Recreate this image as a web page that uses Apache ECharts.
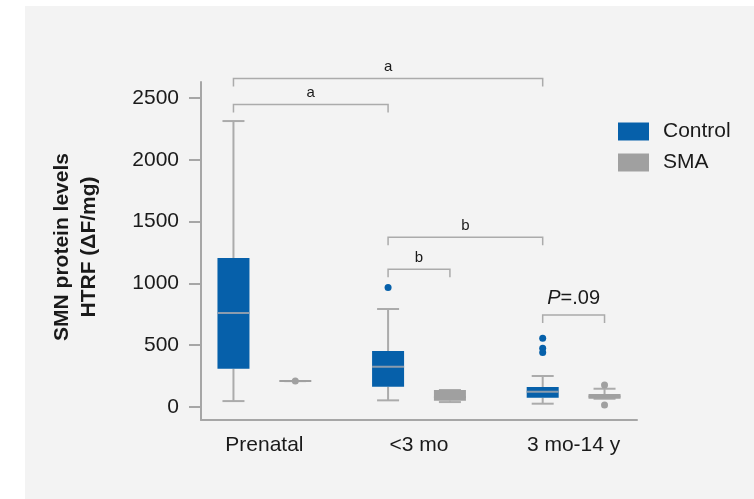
<!DOCTYPE html>
<html>
<head>
<meta charset="utf-8">
<script src="https://cdn.jsdelivr.net/npm/echarts@6/dist/echarts.min.js"></script>
<style>
  html, body { margin: 0; padding: 0; background: #ffffff; }
  #panel { position: absolute; left: 25px; top: 6px; width: 729px; height: 493px; background: #f3f3f3; }
  #chart { position: absolute; left: 0; top: 0; width: 754px; height: 499px; }
</style>
</head>
<body>
<div id="panel"></div>
<div id="chart"></div>
<script>
// ---- Data ----
const categories = ['Prenatal', '<3 mo', '3 mo-14 y'];
const groups = ['Control', 'SMA'];
// [min, Q1, median, Q3, max]
const controlBox = [
  [48, 310, 760, 1205, 2314],
  [54, 164, 326, 453, 793],
  [27, 75, 124, 162, 251]
];
const smaBox = [
  [210, 210, 210, 210, 210],
  [40, 51, 80, 138, 138],
  [67, 67, 85, 105, 148]
];
// [category index, value]
const controlOutliers = [[1, 968], [2, 556], [2, 475], [2, 442]];
const smaPoints = [[0, 210], [2, 178], [2, 16]];
const yTicks = [0, 500, 1000, 1500, 2000, 2500];
// brackets: [category index, group index]
const bracketFrom = [[0, 0], [0, 0], [1, 0], [1, 0], [2, 0]];
const bracketTo = [[2, 0], [1, 0], [2, 0], [1, 1], [2, 1]];
const bracketLevels = [2659, 2447, 1373, 1114, 744];
const bracketLabels = ['a', 'a', 'b', 'b', 'P=.09'];

// ---- Styles ----
const BLUE = '#0660aa';
const GREY = '#a0a0a0';
const LINE = '#ababab';
const TEXT = '#1a1a1a';
const GROUP_OFFSET = 0.2;
const BOX_W = 32;
const CAP_W = 22;
const FONT = 'Liberation Sans, Arial, Helvetica, sans-serif';
const FS = 21;

function xPos(cat, grp) { return cat + 1 + (grp === 0 ? -GROUP_OFFSET : GROUP_OFFSET); }

function boxRenderer(fill, medianColor) {
  return function (params, api) {
    const x = api.value(0);
    const p = [1, 2, 3, 4, 5].map(k => api.coord([x, api.value(k)]));
    const cx = p[0][0];
    const yMin = p[0][1], yQ1 = p[1][1], yMed = p[2][1], yQ3 = p[3][1], yMax = p[4][1];
    const ls = { stroke: LINE, lineWidth: 2 };
    return {
      type: 'group',
      children: [
        { type: 'line', shape: { x1: cx, y1: yMax, x2: cx, y2: yQ3 }, style: ls },
        { type: 'line', shape: { x1: cx, y1: yQ1, x2: cx, y2: yMin }, style: ls },
        { type: 'line', shape: { x1: cx - CAP_W / 2, y1: yMax, x2: cx + CAP_W / 2, y2: yMax }, style: ls },
        { type: 'line', shape: { x1: cx - CAP_W / 2, y1: yMin, x2: cx + CAP_W / 2, y2: yMin }, style: ls },
        { type: 'rect', shape: { x: cx - BOX_W / 2, y: yQ3, width: BOX_W, height: yQ1 - yQ3 }, style: { fill: fill } },
        { type: 'line', shape: { x1: cx - BOX_W / 2, y1: yMed, x2: cx + BOX_W / 2, y2: yMed }, style: { stroke: medianColor, lineWidth: 2 } }
      ]
    };
  };
}

const bracketData = bracketLevels.map((lv, i) => [
  xPos(bracketFrom[i][0], bracketFrom[i][1]),
  xPos(bracketTo[i][0], bracketTo[i][1]),
  lv
]);

function bracketRenderer(params, api) {
  const a = api.coord([api.value(0), api.value(2)]);
  const b = api.coord([api.value(1), api.value(2)]);
  const drop = 8;
  const lbl = bracketLabels[params.dataIndex];
  const isP = lbl.indexOf('P=') === 0;
  return {
    type: 'group',
    children: [
      { type: 'polyline', shape: { points: [[a[0], a[1] + drop], [a[0], a[1]], [b[0], b[1]], [b[0], b[1] + drop]] }, style: { stroke: LINE, lineWidth: 1.5, fill: null } },
      {
        type: 'text',
        style: {
          x: (a[0] + b[0]) / 2,
          y: a[1] - (isP ? 7 : 4),
          text: isP ? '{i|P}' + lbl.slice(1) : lbl,
          align: 'center',
          verticalAlign: 'bottom',
          fill: TEXT,
          font: (isP ? '20px ' : '15px ') + FONT,
          rich: { i: { fontStyle: 'italic', fontSize: 20, fontFamily: FONT, fill: TEXT } }
        }
      }
    ]
  };
}

const chart = echarts.init(document.getElementById('chart'), null, { renderer: 'canvas' });
chart.setOption({
  backgroundColor: 'transparent',
  animation: false,
  textStyle: { fontFamily: FONT },
  grid: { left: 201, right: 117, top: 82, bottom: 79 },
  legend: {
    data: groups,
    orient: 'vertical',
    left: 613,
    top: 116,
    itemWidth: 31,
    itemHeight: 18,
    itemGap: 10,
    icon: 'rect',
    textStyle: { fontSize: FS, color: TEXT, fontFamily: FONT, lineHeight: 18, padding: [0, 0, 0, 9] }
  },
  xAxis: {
    type: 'value',
    min: 0.59,
    max: 3.41,
    splitLine: { show: false },
    axisTick: { show: false },
    axisLine: { show: true, onZero: false, lineStyle: { color: '#a6a6a6', width: 2 } },
    axisLabel: {
      customValues: [1, 2, 3],
      formatter: v => categories[Math.round(v) - 1],
      fontSize: FS, color: TEXT, fontFamily: FONT, margin: 15
    }
  },
  yAxis: {
    type: 'value',
    min: -105,
    max: 2630,
    splitLine: { show: false },
    axisLine: { show: true, onZero: false, lineStyle: { color: '#a6a6a6', width: 2 } },
    axisTick: { show: true, customValues: yTicks, length: 12, lineStyle: { color: '#a6a6a6', width: 2 } },
    axisLabel: { customValues: yTicks, formatter: v => String(v), fontSize: FS, color: TEXT, fontFamily: FONT, margin: 22 },
    name: 'SMN protein levels\nHTRF (ΔF/mg)',
    nameLocation: 'middle',
    nameGap: 98,
    nameTextStyle: { fontSize: FS, fontWeight: 'bold', color: TEXT, fontFamily: FONT, lineHeight: 27, padding: [0, 0, 0, 8] }
  },
  series: [
    {
      name: 'Control', type: 'custom', itemStyle: { color: BLUE },
      renderItem: boxRenderer(BLUE, '#8b9cae'),
      encode: { x: 0, y: [1, 2, 3, 4, 5] },
      data: controlBox.map((b, i) => [xPos(i, 0)].concat(b)),
      z: 3
    },
    {
      name: 'SMA', type: 'custom', itemStyle: { color: GREY },
      renderItem: boxRenderer(GREY, GREY),
      encode: { x: 0, y: [1, 2, 3, 4, 5] },
      data: smaBox.map((b, i) => [xPos(i, 1)].concat(b)),
      z: 3
    },
    {
      name: 'Control points', type: 'scatter', symbolSize: 7,
      itemStyle: { color: BLUE, opacity: 1 },
      data: controlOutliers.map(d => [xPos(d[0], 0), d[1]]),
      z: 4
    },
    {
      name: 'SMA points', type: 'scatter', symbolSize: 7,
      itemStyle: { color: GREY, opacity: 1 },
      data: smaPoints.map(d => [xPos(d[0], 1), d[1]]),
      z: 4
    },
    {
      name: 'brackets', type: 'custom', clip: false,
      renderItem: bracketRenderer,
      encode: { x: [0, 1], y: 2 },
      data: bracketData,
      z: 5
    }
  ]
});
</script>
</body>
</html>
